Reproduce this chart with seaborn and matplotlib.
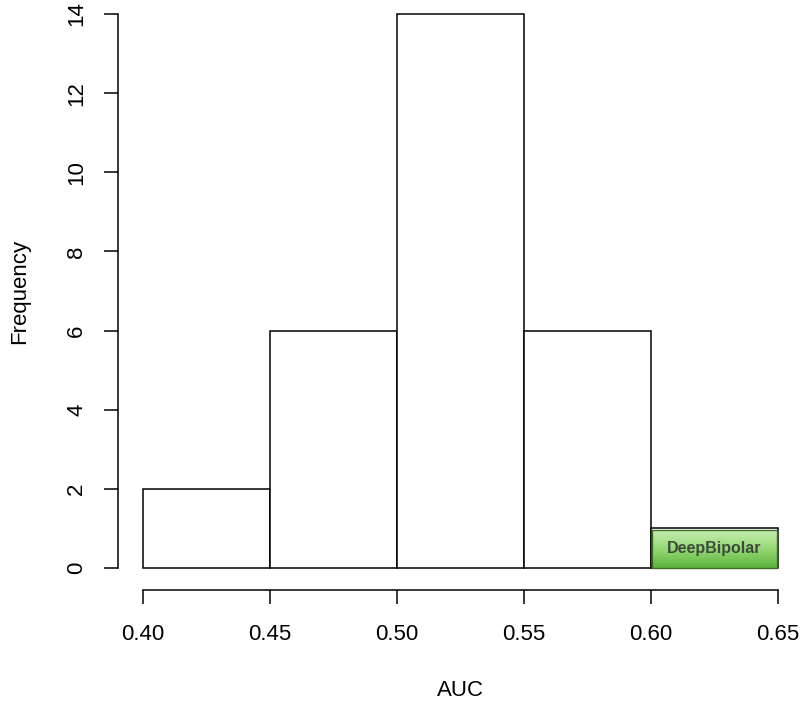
import numpy as np
import matplotlib
matplotlib.use("Agg")
import matplotlib.pyplot as plt
import seaborn as sns
from matplotlib.colors import LinearSegmentedColormap

sns.set_style("white")
plt.rcParams['font.family'] = ['Liberation Sans', 'DejaVu Sans']

# Data
bin_edges = [0.40, 0.45, 0.50, 0.55, 0.60, 0.65]
bin_centers = [0.425, 0.475, 0.525, 0.575, 0.625]
counts = [2, 6, 14, 6, 1]
x_ticks = [0.40, 0.45, 0.50, 0.55, 0.60, 0.65]
x_tick_labels = ["0.40", "0.45", "0.50", "0.55", "0.60", "0.65"]
y_ticks = [0, 2, 4, 6, 8, 10, 12, 14]
label_text = "DeepBipolar"
label_bin = (0.6003, 0.65)
label_height = 0.96

W, H = 800, 701
fig = plt.figure(figsize=(W / 100, H / 100), dpi=100)
# axes in pixel coordinates (R-style 4% padding)
x0, x1 = 117.6, 802.9
y_top, y_bot = -8.2, 590.2
ax = fig.add_axes([x0 / W, 1 - y_bot / H, (x1 - x0) / W, (y_bot - y_top) / H])

sns.histplot(x=bin_centers, weights=counts, bins=bin_edges, ax=ax,
             stat="count", color="white", edgecolor="black", linewidth=1.1,
             alpha=1.0)

ax.set_xlim(0.39, 0.66)
ax.set_ylim(-0.56, 14.56)

for s in ["top", "right"]:
    ax.spines[s].set_visible(False)
ax.spines["left"].set_bounds(0, 14)
ax.spines["bottom"].set_bounds(0.40, 0.65)
for s in ["left", "bottom"]:
    ax.spines[s].set_linewidth(1.1)
    ax.spines[s].set_color("black")

ax.set_xticks(x_ticks)
ax.set_xticklabels(x_tick_labels)
ax.set_yticks(y_ticks)
ax.set_yticklabels([str(v) for v in y_ticks], rotation=90, va="center")
ax.tick_params(axis="both", direction="out", length=10, width=1.1, color="black",
               labelsize=16, labelcolor="black", bottom=True, left=True)
ax.tick_params(axis="x", pad=14)
ax.tick_params(axis="y", pad=12)

ax_w = x1 - x0
ax_h = y_bot - y_top
ax.set_xlabel("AUC", fontsize=16, va="center", color="black")
ax.xaxis.set_label_coords((460 - x0) / ax_w, -(690 - y_bot) / ax_h)
ax.set_ylabel("Frequency", fontsize=16, va="center", color="black")
ax.yaxis.set_label_coords(-(x0 - 20) / ax_w, (y_bot - 291) / ax_h)

# Green gradient label box
cmap = LinearSegmentedColormap.from_list("g", ["#c8eeb2", "#94d874", "#5cb43c"])
grad = np.linspace(0, 1, 100).reshape(-1, 1)
bx0, bx1 = label_bin
ax.imshow(grad, extent=[bx0 + 0.0004, bx1 - 0.0004, 0.0, label_height],
          origin="upper", cmap=cmap, aspect="auto", zorder=5)
ax.add_patch(plt.Rectangle((bx0 + 0.0004, 0.0), bx1 - bx0 - 0.0008, label_height,
                           fill=False, edgecolor="#3d6b2a", linewidth=1.0, zorder=6))
ax.text((bx0 + bx1) / 2, label_height / 2 + 0.02, label_text, ha="center", va="center",
        fontsize=11.5, fontweight="bold", color="#3f4a3c", zorder=7)

fig.savefig("out.png", dpi=100)
